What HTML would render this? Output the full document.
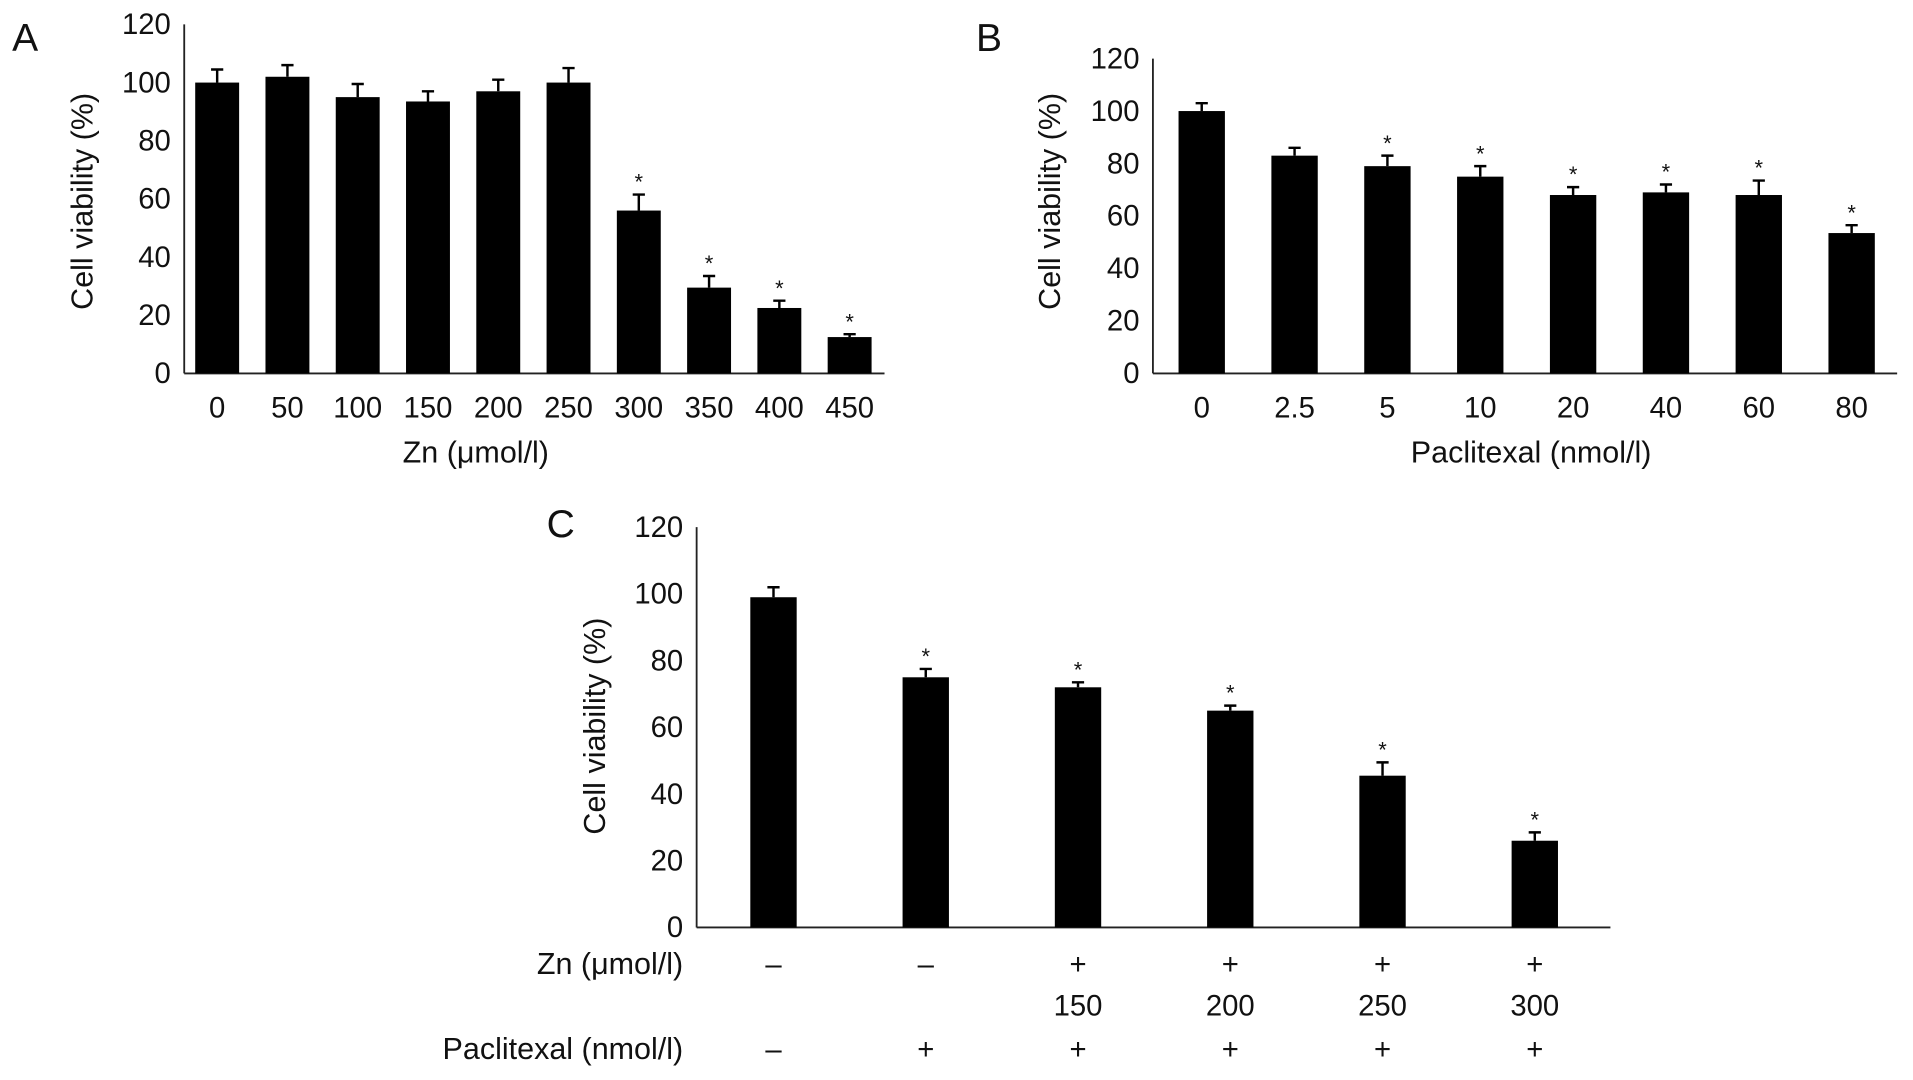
<!DOCTYPE html>
<html><head><meta charset="utf-8"><style>
html,body{margin:0;padding:0;background:#fff;width:1913px;height:1080px;overflow:hidden}
svg{display:block}
text{font-family:"Liberation Sans",sans-serif;fill:#111}
</style></head><body>
<svg id="fig" width="1913" height="1080" viewBox="0 0 1568 885" preserveAspectRatio="none" xmlns="http://www.w3.org/2000/svg"></svg>
<script>
// Panel A data
const catsA = ["0","50","100","150","200","250","300","350","400","450"];
const valsA = [100,102,95,93.5,97,100,56,29.5,22.5,12.5];
const errA = [4.5,4,4.5,3.5,4,5,5.5,4,2.5,1];
const starA = [0,0,0,0,0,0,1,1,1,1];
// Panel B data
const catsB = ["0","2.5","5","10","20","40","60","80"];
const valsB = [100,83,79,75,68,69,68,53.5];
const errB = [3,3,4,4,3,3,5.5,3];
const starB = [0,0,1,1,1,1,1,1];
// Panel C data
const znSigns = ["–","–","+","+","+","+"];
const znDoses = ["","","150","200","250","300"];
const ptxSigns = ["–","+","+","+","+","+"];
const valsC = [99,75,72,65,45.5,26];
const errC = [3,2.5,1.5,1.5,4,2.5];
const starC = [0,1,1,1,1,1];
const yTicks = [0,20,40,60,80,100,120];

const svg = document.getElementById('fig');
const NS = "http://www.w3.org/2000/svg";
function mk(tag, attrs, parent){const e=document.createElementNS(NS,tag);for(const k in attrs)e.setAttribute(k,attrs[k]);(parent||svg).appendChild(e);return e;}
function txt(s, x, y, size, anchor, parent){const t=mk('text',{x:x,y:y,'font-size':size,'text-anchor':anchor||'middle'},parent);t.textContent=s;return t;}

function panel(cfg){
  const g = mk('g',{});
  
  
  const y = v => cfg.y0 - (v/120)*(cfg.y0-cfg.y120);
  const x = i => cfg.xs0 + i*cfg.step;
  const ax = mk('line',{x1:cfg.ax,y1:cfg.y120,x2:cfg.ax,y2:cfg.y0,stroke:'#222','stroke-width':1.5},g);
  
  
  const bx = mk('line',{x1:cfg.ax,y1:cfg.y0,x2:cfg.axEnd,y2:cfg.y0,stroke:'#222','stroke-width':1.5},g);
  
  
  yTicks.forEach(v=>{
    const t = txt(String(v), cfg.ax-11, y(v)+8, 24, 'end', g);
    
    
  });
  cfg.vals.forEach((v,i)=>{
    const cx = x(i), top = y(v), et = y(v+cfg.err[i]);
    const r = mk('rect',{x:cx-cfg.bw/2,y:top,width:cfg.bw,height:cfg.y0-top,fill:'#000'},g);
    
    
    const e = mk('path',{d:`M${cx},${top} V${et} M${cx-5},${et} H${cx+5}`,stroke:'#000','stroke-width':2,fill:'none'},g);
    
    
    if(cfg.star[i]){
      const s = txt('*', cx, et-4, 18, 'middle', g);
      
      
    }
    if(cfg.cats){
      const c = txt(cfg.cats[i], cx, cfg.y0+36, 24, 'middle', g);
      
      
    }
  });
  const yt = txt('Cell viability (%)', 0, 0, 25, 'middle', g);
  yt.setAttribute('transform',`translate(${cfg.ytx},${cfg.yty}) rotate(-90)`);
  
  
  const L = txt(cfg.letter, cfg.lx, cfg.ly, 32, 'start', g);
  
  
  if(cfg.xt){
    const xt = txt(cfg.xt, cfg.xtx, cfg.y0+73, 25, 'middle', g);
    
    
  }
  return {g,x};
}

panel({name:'panel-a',ax:151,axEnd:725,y0:306,y120:20,xs0:178,step:57.6,bw:36,vals:valsA,err:errA,star:starA,cats:catsA,ytx:76,yty:165,letter:'A',lx:10,ly:42,xt:'Zn (μmol/l)',xtx:390});
panel({name:'panel-b',ax:945,axEnd:1555,y0:306,y120:48,xs0:985,step:76.1,bw:38,vals:valsB,err:errB,star:starB,cats:catsB,ytx:869,yty:165,letter:'B',lx:800,ly:42,xt:'Paclitexal (nmol/l)',xtx:1255});
const pc = panel({name:'panel-c',ax:571,axEnd:1320,y0:760,y120:432,xs0:634,step:124.8,bw:38,vals:valsC,err:errC,star:starC,ytx:496,yty:595,letter:'C',lx:448,ly:440});
const g = pc.g;
const zl = txt('Zn (μmol/l)', 560, 798, 25, 'end', g);


const pl = txt('Paclitexal (nmol/l)', 560, 868, 25, 'end', g);


znSigns.forEach((s,i)=>{
  const a = txt(s, pc.x(i), 798, 24, 'middle', g);
  
  
  const b = txt(znDoses[i], pc.x(i), 832, 24, 'middle', g);
  
  
  const c = txt(ptxSigns[i], pc.x(i), 868, 24, 'middle', g);
  
  
});
</script>
</body></html>
